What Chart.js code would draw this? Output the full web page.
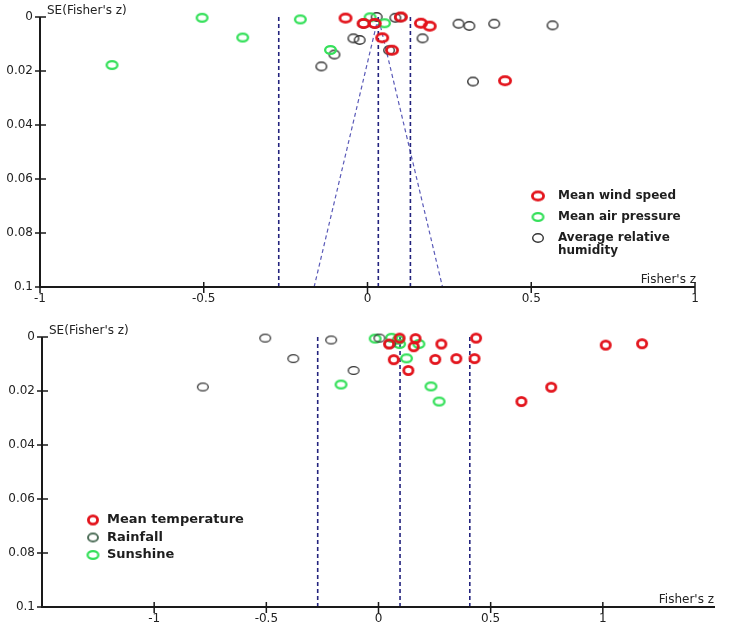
<!DOCTYPE html>
<html><head><meta charset="utf-8">
<script src="https://cdn.jsdelivr.net/npm/chart.js@4.4.1/dist/chart.umd.min.js"></script>
<style>
body{margin:0;background:#fff;width:729px;height:630px;position:relative;overflow:hidden}
.box{position:absolute;left:0;width:729px}
</style></head><body>
<div class="box" style="top:0;height:310px"><canvas id="top"></canvas></div>
<div class="box" style="top:310px;height:320px"><canvas id="bottom"></canvas></div>
<script>
// top panel: wind speed / air pressure / humidity
let windZ=[-0.067,-0.012,0.022,0.102,0.163,0.19,0.045,0.075,0.42]
let windSE=[0.0004,0.0024,0.0024,0.0000,0.0023,0.0034,0.0077,0.0123,0.0236]
let pressureZ=[-0.505,-0.205,-0.381,-0.78,-0.113,0.008,0.052]
let pressureSE=[0.0003,0.0009,0.0076,0.0178,0.0122,0.0001,0.0023]
let humidityZ=[0.028,-0.012,0.022,0.085,0.1,0.278,0.311,0.387,0.565,-0.043,-0.024,0.168,-0.101,-0.141,0.066,0.322]
let humiditySE=[0.0000,0.0025,0.0025,0.0003,0.0001,0.0025,0.0033,0.0025,0.0031,0.0079,0.0085,0.0079,0.0139,0.0183,0.0123,0.0239]
let topLinesZ=[-0.271,0.033,0.131]
let topFunnelZ=[-0.163,0.033,0.229]
let topFunnelSE=[0.1,0,0.1]
let topTicks=[-1,-0.5,0,0.5,1]

// bottom panel: temperature / rainfall / sunshine
let tempZ=[0.094,0.165,0.047,0.157,0.28,0.435,0.068,0.253,0.347,0.428,0.133,1.013,1.175,0.77,0.637]
let tempSE=[0.0004,0.0006,0.0026,0.0036,0.0026,0.0004,0.0084,0.0083,0.0080,0.0080,0.0124,0.0030,0.0025,0.0186,0.0239]
let rainZ=[-0.505,-0.211,-0.380,-0.783,-0.111,0.004,0.052]
let rainSE=[0.0004,0.0011,0.0080,0.0185,0.0124,0.0004,0.0026]
let sunZ=[-0.015,0.058,0.088,0.094,0.18,0.125,-0.167,0.234,0.27]
let sunSE=[0.0006,0.0003,0.0010,0.0026,0.0026,0.0079,0.0176,0.0183,0.0239]
let bottomLinesZ=[-0.271,0.096,0.407]
let bottomTicks=[-1,-0.5,0,0.5,1]

let seTicks=[0,0.02,0.04,0.06,0.08,0.1]

function ring(w,h,color,lw){
let c=document.createElement("canvas")
c.width=w+4;c.height=h+4
let g=c.getContext("2d")
g.strokeStyle=color;g.lineWidth=lw
g.beginPath()
g.ellipse(c.width/2,c.height/2,(w-lw)/2,(h-lw)/2,0,0,Math.PI*2)
g.stroke()
return c
}

function pts(zs,ses){return zs.map((z,i)=>({x:z,y:ses[i]}))}

function vline(z,color,w){
return {data:[{x:z,y:0},{x:z,y:0.1}],showLine:true,pointRadius:0,borderColor:color,borderWidth:w,borderDash:[4,3]}
}

let fmt=v=>String(Math.round(v*1000)/1000)

let decor={
id:"decor",
afterDraw(chart,args,o){
let ctx=chart.ctx,a=chart.chartArea,xs=chart.scales.x,ys=chart.scales.y
ctx.save()
ctx.strokeStyle="#1a1a1a"
ctx.lineWidth=2
ctx.beginPath()
ctx.moveTo(a.left,a.top);ctx.lineTo(a.left,a.bottom);ctx.lineTo(a.right,a.bottom)
ctx.stroke()
ctx.lineWidth=1.5
ctx.beginPath()
xs.ticks.forEach(t=>{let p=xs.getPixelForValue(t.value);ctx.moveTo(p,a.bottom-5);ctx.lineTo(p,a.bottom+6)})
ys.ticks.forEach(t=>{let p=ys.getPixelForValue(t.value);ctx.moveTo(a.left-5,p);ctx.lineTo(a.left+6,p)})
ctx.stroke()

ctx.fillStyle="#222"
ctx.font="12px 'DejaVu Sans'"
ctx.textBaseline="middle"
ctx.textAlign="left"
ctx.fillText("SE(Fisher's z)",a.left+7,a.top-6)
ctx.textAlign="right"
ctx.fillText("Fisher's z",o.zTitleX,a.bottom-7)

ctx.textAlign="left"
ctx.font="bold "+o.legendFont+"px 'DejaVu Sans'"
ctx.fillStyle="#1e1e1e"
let y=o.legendY
chart.data.datasets.forEach(ds=>{
if(!ds.legendLabel)return
let img=ds.legendMark||ds.pointStyle
ctx.drawImage(img,o.legendX-img.width/2,y-img.height/2)
ds.legendLabel.forEach((line,k)=>ctx.fillText(line,o.legendX+o.textOff,y+k*12.5))
y+=o.legendGap
})
ctx.restore()
}
}

function makeChart(id,datasets,xmin,xmax,xticks,yw,pad,decorOpts){
datasets.forEach(d=>{d.clip=false})
return new Chart(document.getElementById(id),{
type:"scatter",
data:{datasets:datasets},
plugins:[decor],
options:{
responsive:true,maintainAspectRatio:false,animation:false,
layout:{padding:pad},
plugins:{legend:{display:false},tooltip:{enabled:false},decor:decorOpts},
scales:{
x:{type:"linear",min:xmin,max:xmax,
afterBuildTicks:s=>{s.ticks=xticks.map(v=>({value:v}))},
afterFit:s=>{s.height=23},
grid:{display:false,drawTicks:false},border:{display:false},
ticks:{padding:5,color:"#222",font:{family:"DejaVu Sans",size:12},callback:fmt}},
y:{type:"linear",min:0,max:0.1,reverse:true,
afterBuildTicks:s=>{s.ticks=seTicks.map(v=>({value:v}))},
afterFit:s=>{s.width=yw},
grid:{display:false,drawTicks:false},border:{display:false},
ticks:{padding:7,color:"#222",font:{family:"DejaVu Sans",size:12},callback:fmt}}
}
}
})
}

let red=ring(14,11,"#e3141c",2.8)
let green=ring(13,10,"#35e05a",2.3)
let grey=ring(12,10,"#333",1.4)

makeChart("top",[
{legendLabel:["Mean wind speed"],data:pts(windZ,windSE),pointStyle:red,pointRadius:6},
{legendLabel:["Mean air pressure"],data:pts(pressureZ,pressureSE),pointStyle:green,pointRadius:6},
{legendLabel:["Average relative","humidity"],data:pts(humidityZ,humiditySE),pointStyle:grey,pointRadius:6},
...topLinesZ.map(z=>vline(z,"#23237e",1.6)),
{data:pts(topFunnelZ,topFunnelSE),showLine:true,pointRadius:0,borderColor:"#5a5ab8",borderWidth:1.2,borderDash:[4,3]}
],-1,1,topTicks,40,{top:17,right:34,left:0,bottom:0},
{zTitleX:696,legendX:538,legendY:196,legendGap:21,textOff:20,legendFont:12})

let redB=ring(12,11,"#e3141c",2.8)
let greenB=ring(13,10,"#35e05a",2.3)
let greyB=ring(12,9,"#333",1.3)
let rainMark=ring(12,10,"#4f6f5a",2)

makeChart("bottom",[
{legendLabel:["Mean temperature"],data:pts(tempZ,tempSE),pointStyle:redB,pointRadius:6},
{legendLabel:["Rainfall"],legendMark:rainMark,data:pts(rainZ,rainSE),pointStyle:greyB,pointRadius:6},
{legendLabel:["Sunshine"],data:pts(sunZ,sunSE),pointStyle:greenB,pointRadius:6},
...bottomLinesZ.map(z=>vline(z,"#23237e",1.6))
],-1.5,1.5,bottomTicks,42,{top:27,right:14,left:0,bottom:0},
{zTitleX:714,legendX:93,legendY:210,legendGap:17.5,textOff:14,legendFont:13})
</script>
</body></html>
